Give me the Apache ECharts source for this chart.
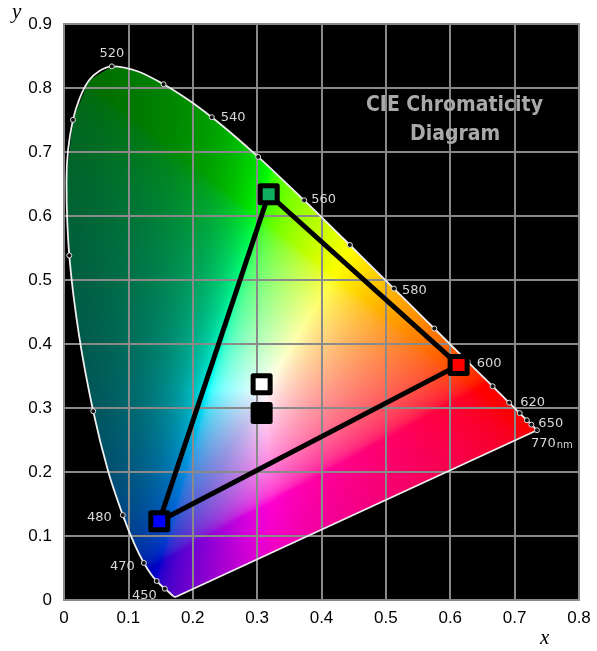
<!DOCTYPE html>
<html>
<head>
<meta charset="utf-8">
<script src="https://cdn.jsdelivr.net/npm/echarts@6/dist/echarts.min.js"></script>
<style>
  html, body { margin: 0; padding: 0; background: #fff; }
  #chart { width: 597px; height: 651px; }
</style>
</head>
<body>
<div id="chart"></div>
<script>
// CIE 1931 spectral locus (2° observer), chromaticity x / y by wavelength (nm)
const locusWl = [380,385,390,395,400,405,410,415,420,425,430,435,440,445,450,455,460,465,470,475,
  480,485,490,495,500,505,510,515,520,525,530,535,540,545,550,555,560,565,570,575,
  580,585,590,595,600,605,610,615,620,625,630,635,640,645,650,655,660,665,670,680,690,770];
const locusX = [0.1741,0.1740,0.1738,0.1736,0.1733,0.1730,0.1726,0.1721,0.1714,0.1703,0.1689,0.1669,0.1644,0.1611,0.1566,0.1510,0.1440,0.1355,0.1241,0.1096,
  0.0913,0.0687,0.0454,0.0235,0.0082,0.0039,0.0139,0.0389,0.0743,0.1142,0.1547,0.1929,0.2296,0.2658,0.3016,0.3373,0.3731,0.4087,0.4441,0.4788,
  0.5125,0.5448,0.5752,0.6029,0.6270,0.6482,0.6658,0.6801,0.6915,0.7006,0.7079,0.7140,0.7190,0.7230,0.7260,0.7283,0.7300,0.7311,0.7320,0.7334,0.7344,0.7347];
const locusY = [0.0050,0.0050,0.0049,0.0049,0.0048,0.0048,0.0048,0.0048,0.0051,0.0058,0.0069,0.0086,0.0109,0.0138,0.0177,0.0227,0.0297,0.0399,0.0578,0.0868,
  0.1327,0.2007,0.2950,0.4127,0.5384,0.6548,0.7502,0.8120,0.8338,0.8262,0.8059,0.7816,0.7543,0.7243,0.6923,0.6589,0.6245,0.5896,0.5547,0.5202,
  0.4866,0.4544,0.4242,0.3965,0.3725,0.3514,0.3340,0.3197,0.3083,0.2993,0.2920,0.2859,0.2809,0.2770,0.2740,0.2717,0.2700,0.2689,0.2680,0.2666,0.2656,0.2653];

// Wavelengths marked with a dot on the locus, and the ones that carry a label
const markerWl = [450,460,470,480,490,500,510,520,530,540,550,560,570,580,590,600,610,620,630,640,650,770];
const labelWl = [450,470,480,520,540,560,580,600,620,650,770];
const labelText = ['450','470','480','520','540','560','580','600','620','650','770'];

// Display primaries (green, red, blue) forming the gamut triangle
const primaryName = ['G','R','B'];
const primaryX = [0.318, 0.613, 0.148];
const primaryY = [0.634, 0.367, 0.123];

// White points: open square and filled square
const whiteX = [0.307, 0.307];
const whiteY = [0.337, 0.292];

// Axis tick labels
const xTickLabels = ['0','0.1','0.2','0.3','0.4','0.5','0.6','0.7','0.8'];
const yTickLabels = ['0','0.1','0.2','0.3','0.4','0.5','0.6','0.7','0.8','0.9'];

// ---- helpers ----
function locusPoint(wl) {
  const i = locusWl.indexOf(wl);
  return [locusX[i], locusY[i]];
}

// Lowest and highest y of the closed locus (with the purple line) at a given x
function spanAt(x) {
  let lo = Infinity, hi = -Infinity;
  const n = locusX.length;
  for (let i = 0; i < n; i++) {
    const j = (i + 1) % n;
    const xa = locusX[i], xb = locusX[j];
    if (xa !== xb && (x - xa) * (x - xb) <= 0) {
      const y = locusY[i] + (x - xa) * (locusY[j] - locusY[i]) / (xb - xa);
      if (y < lo) lo = y;
      if (y > hi) hi = y;
    }
  }
  return [lo, hi];
}

function gammaEnc(c) {
  c = Math.max(0, Math.min(1, c));
  return c <= 0.0031308 ? 12.92 * c : 1.055 * Math.pow(c, 1 / 2.4) - 0.055;
}

// Display colour for a chromaticity point
function chroma(x, y) {
  y = Math.max(y, 0.001);
  const X = x / y, Z = (1 - x - y) / y;
  let r = 3.2406 * X - 1.5372 - 0.4986 * Z;
  let g = -0.9689 * X + 1.8758 + 0.0415 * Z;
  let b = 0.0557 * X - 0.2040 + 1.0570 * Z;
  const mx = Math.max(r, g, b);
  const negR = Math.max(0, -r) / mx;
  const negG = Math.max(0, -g) / mx;
  r = Math.max(r, 0) / mx; g = Math.max(g, 0) / mx; b = Math.max(b, 0) / mx;
  // pink side leans towards crimson
  b *= 1 - 0.35 * Math.max(0, r - g);
  let f = 1 / (1 + 1.7 * negR) / (1 + 0.3 * negG);
  f *= 1 - 0.2 * Math.max(0, b - Math.max(r, g));
  const R = Math.round(255 * gammaEnc(r) * f);
  const G = Math.round(255 * gammaEnc(g) * f);
  const B = Math.round(255 * gammaEnc(b) * f);
  return 'rgb(' + R + ',' + G + ',' + B + ')';
}

const xMin = Math.min.apply(null, locusX);
const xMax = Math.max.apply(null, locusX);

// Colour fill of the horseshoe: thin vertical bands, each with a vertical gradient
function renderFill(params, api) {
  const children = [];
  const dx = 0.0025;
  for (let x0 = xMin; x0 < xMax; x0 += dx) {
    const x1 = Math.min(x0 + dx * 1.6, xMax);
    const a = spanAt(x0), b = spanAt(x1);
    if (!isFinite(a[0]) || !isFinite(b[0])) continue;
    const pts = [api.coord([x0, a[0]]), api.coord([x1, b[0]]), api.coord([x1, b[1]]), api.coord([x0, a[1]])];
    const xm = Math.min(x0 + dx / 2, xMax);
    const lo = Math.min(a[0], b[0]), hi = Math.max(a[1], b[1]);
    const n = Math.max(2, Math.ceil((hi - lo) / 0.006));
    const stops = [];
    for (let k = 0; k <= n; k++) {
      stops.push({ offset: k / n, color: chroma(xm, lo + (hi - lo) * k / n) });
    }
    const pLo = api.coord([xm, lo]), pHi = api.coord([xm, hi]);
    children.push({
      type: 'polygon',
      shape: { points: pts },
      style: { fill: { type: 'linear', x: pLo[0], y: pLo[1], x2: pHi[0], y2: pHi[1], global: true, colorStops: stops } }
    });
  }
  return { type: 'group', children: children };
}

// Label placement around the locus dots
const labelPlace = {
  450: { position: 'left', distance: 5, offset: [0, 7] },
  470: { position: 'left', distance: 6, offset: [0, 4] },
  480: { position: 'left', distance: 8, offset: [0, 3] },
  520: { position: 'top', distance: 3 },
  540: { position: 'right', distance: 6, offset: [0, 0] },
  560: { position: 'right', distance: 4, offset: [0, -1] },
  580: { position: 'right', distance: 5, offset: [0, 2] },
  600: { position: 'right', distance: 6, offset: [0, 2] },
  620: { position: 'right', distance: 8, offset: [0, 0] },
  650: { position: 'right', distance: 4, offset: [0, -1] },
  770: { position: [-3, 10], align: 'left', verticalAlign: 'top' }
};

const markerData = markerWl.map(function (wl) {
  const item = { value: locusPoint(wl) };
  const li = labelWl.indexOf(wl);
  if (li >= 0) {
    const p = labelPlace[wl];
    item.label = Object.assign({
      show: true,
      formatter: wl === 770 ? '{a|' + labelText[li] + '}{b|nm}' : labelText[li]
    }, p);
  }
  return item;
});

const locusLine = locusX.map(function (x, i) { return [x, locusY[i]]; });
const purpleLine = [[locusX[locusX.length - 1], locusY[locusY.length - 1]], [locusX[0], locusY[0]]];

const triangle = primaryX.map(function (x, i) { return [x, primaryY[i]]; });
triangle.push([primaryX[0], primaryY[0]]);
const primaryFill = ['#0fb060', '#ff0000', '#0000ff'];

const chart = echarts.init(document.getElementById('chart'), null, { renderer: 'canvas' });

const gridColor = '#8a8a8a';
const axisFont = { color: '#000', fontSize: 17, fontFamily: 'Liberation Sans, Arial, sans-serif' };

chart.setOption({
  animation: false,
  grid: { left: 64, right: 18, top: 24, bottom: 51, show: true, backgroundColor: '#000', borderColor: gridColor, borderWidth: 2 },
  xAxis: {
    type: 'value', min: 0, max: 0.8, interval: 0.1, z: 3,
    axisLine: { show: false }, axisTick: { show: false },
    splitLine: { show: true, lineStyle: { color: gridColor, width: 2 } },
    axisLabel: Object.assign({ margin: 10, formatter: function (v) { return xTickLabels[Math.round(v * 10)]; } }, axisFont)
  },
  yAxis: {
    type: 'value', min: 0, max: 0.9, interval: 0.1, z: 3,
    axisLine: { show: false }, axisTick: { show: false },
    splitLine: { show: true, lineStyle: { color: gridColor, width: 2 } },
    axisLabel: Object.assign({ margin: 12, formatter: function (v) { return yTickLabels[Math.round(v * 10)]; } }, axisFont)
  },
  graphic: [
    { type: 'text', left: 366, top: 95, z: 10, style: { text: 'CIE Chromaticity', fill: '#a9a9a9', font: 'bold 21px "DejaVu Sans Condensed", "DejaVu Sans", sans-serif' } },
    { type: 'text', left: 410, top: 124, z: 10, style: { text: 'Diagram', fill: '#a9a9a9', font: 'bold 21px "DejaVu Sans Condensed", "DejaVu Sans", sans-serif' } },
    { type: 'text', left: 12, top: 2, z: 10, style: { text: 'y', fill: '#000', font: 'italic 21px "Liberation Serif", "DejaVu Serif", serif' } },
    { type: 'text', left: 540, top: 628, z: 10, style: { text: 'x', fill: '#000', font: 'italic 21px "Liberation Serif", "DejaVu Serif", serif' } }
  ],
  series: [
    {
      type: 'custom', z: 1, clip: false, silent: true,
      data: [0],
      renderItem: renderFill
    },
    {
      type: 'line', z: 4, data: locusLine, symbol: 'none', silent: true, smooth: 0.3,
      lineStyle: { color: '#eeeeee', width: 1.8 }
    },
    {
      type: 'line', z: 4, data: purpleLine, symbol: 'none', silent: true,
      lineStyle: { color: '#eeeeee', width: 1.8 }
    },
    {
      type: 'scatter', z: 5, data: markerData, symbol: 'circle', symbolSize: 5, silent: true,
      itemStyle: { color: '#111', borderColor: '#dddddd', borderWidth: 1, opacity: 1 },
      label: {
        show: false, color: '#d8d8d8', fontSize: 13, fontFamily: 'DejaVu Sans, sans-serif',
        rich: { a: { fontSize: 13, color: '#d8d8d8', fontFamily: 'DejaVu Sans, sans-serif' }, b: { fontSize: 10, color: '#d8d8d8', fontFamily: 'DejaVu Sans, sans-serif', padding: [3, 0, 0, 1] } }
      }
    },
    {
      type: 'line', z: 6, data: triangle, symbol: 'none', silent: true,
      lineStyle: { color: '#000', width: 5, join: 'round', cap: 'round' }
    },
    {
      type: 'scatter', z: 7, silent: true, symbol: 'rect', symbolSize: 17,
      data: primaryX.map(function (x, i) {
        return { name: primaryName[i], value: [x, primaryY[i]], itemStyle: { color: primaryFill[i] } };
      }),
      itemStyle: { borderColor: '#000', borderWidth: 5, borderJoin: 'round', opacity: 1 }
    },
    {
      type: 'scatter', z: 7, silent: true, symbol: 'rect', symbolSize: 17,
      data: [
        { value: [whiteX[0], whiteY[0]], itemStyle: { color: '#ffffff' } },
        { value: [whiteX[1], whiteY[1]], itemStyle: { color: '#000000' } }
      ],
      itemStyle: { borderColor: '#000', borderWidth: 5, borderJoin: 'round', opacity: 1 }
    }
  ]
});
</script>
</body>
</html>
